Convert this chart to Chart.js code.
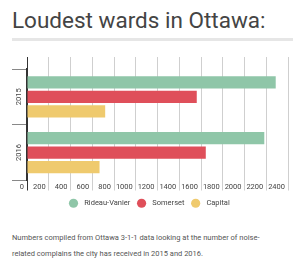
<!DOCTYPE html>
<html>
<head>
<meta charset="utf-8">
<script src="https://cdn.jsdelivr.net/npm/chart.js@4/dist/chart.umd.min.js"></script>
<style>
    body { margin: 0; width: 300px; height: 270px; background: #fff; font-family: Roboto, sans-serif; position: relative; overflow: hidden; }
    #title { position: absolute; left: 12px; top: 9px; font-size: 22.5px; line-height: 22.5px; color: #444; white-space: nowrap; }
    #rule { position: absolute; left: 12px; top: 38px; width: 281px; height: 3px; background: #e6e6e6; }
    #wrap { position: absolute; left: 0; top: 45px; width: 300px; height: 172px; }
    #note { position: absolute; left: 12px; top: 230px; font-size: 7.5px; line-height: 16px; color: #555; white-space: nowrap; }
</style>
</head>
<body>
<div id="title">Loudest wards in Ottawa:</div>
<div id="rule"></div>
<div id="wrap"><canvas id="chart"></canvas></div>
<div id="note">Numbers compiled from Ottawa 3-1-1 data looking at the number of noise-<br>related complains the city has received in 2015 and 2016.</div>
<script>
// Data
const years = ['2015', '2016'];
const wards = ['Rideau-Vanier', 'Somerset', 'Capital'];
const rideauVanier = [2287, 2182];
const somerset = [1561, 1644];
const capital = [719, 667];
const wardColors = ['#8fc6a8', '#df4f5a', '#efca6e'];
const xMin = 0;
const xMax = 2400;
const xStep = 200;

const axisColor = '#333';
const gridColor = '#cfcfcf';
const lineColor = ctx => (ctx.tick && ctx.tick.value === 0) ? axisColor : gridColor;
const smallFont = { family: 'Roboto', size: 7.5 };

const ctx = document.getElementById('chart').getContext('2d');
new Chart(ctx, {
    type: 'bar',
    data: {
        labels: years,
        datasets: [rideauVanier, somerset, capital].map((values, i) => ({
            label: wards[i],
            data: values,
            backgroundColor: wardColors[i],
            borderWidth: 0
        }))
    },
    options: {
        indexAxis: 'y',
        responsive: true,
        maintainAspectRatio: false,
        animation: false,
        layout: { padding: { left: 12, right: 12, top: 12, bottom: 0 } },
        datasets: { bar: { categoryPercentage: 0.78, barPercentage: 0.86 } },
        scales: {
            x: {
                min: xMin, max: xMax,
                ticks: {
                    stepSize: xStep, align: 'end', labelOffset: -3, padding: -8,
                    minRotation: 0, maxRotation: 0, autoSkip: false,
                    callback: v => String(v),
                    color: '#444', font: smallFont
                },
                grid: { color: lineColor, tickLength: 10 },
                border: { display: false },
                afterFit: s => { s.height = 11; }
            },
            xTop: {
                position: 'top',
                min: xMin, max: xMax,
                ticks: { stepSize: xStep, display: false },
                grid: { drawOnChartArea: false, tickLength: 12, color: lineColor },
                border: { display: false }
            },
            y: {
                ticks: { minRotation: 90, maxRotation: 90, labelOffset: -8.5, padding: -7.5, color: '#444', font: smallFont },
                grid: { drawOnChartArea: false, tickLength: 15, color: '#888' },
                border: { color: axisColor, width: 1.5 },
                afterFit: s => { s.width = 15; }
            }
        },
        plugins: {
            legend: {
                position: 'bottom',
                labels: {
                    usePointStyle: true,
                    pointStyle: 'circle',
                    boxWidth: 6.5,
                    boxHeight: 6.5,
                    padding: 8,
                    color: '#444',
                    font: smallFont,
                    // a little more room between the dot and the name
                    generateLabels: chart => Chart.defaults.plugins.legend.labels.generateLabels(chart)
                        .map(item => ({ ...item, text: '  ' + item.text }))
                }
            },
            tooltip: { enabled: false }
        }
    }
});
</script>
</body>
</html>
